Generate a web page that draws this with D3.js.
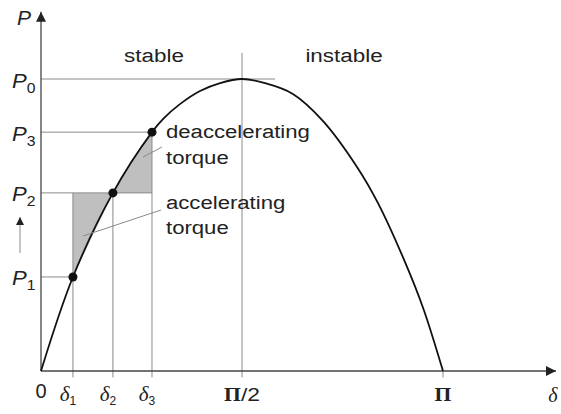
<!DOCTYPE html>
<html>
<head>
<meta charset="utf-8">
<script src="https://cdn.jsdelivr.net/npm/d3@7"></script>
<style>
  body { margin: 0; background: #fff; }
  text { font-family: "Liberation Sans", Arial, sans-serif; fill: #222; }
  .serif { font-family: "Liberation Serif", "Times New Roman", serif; }
</style>
</head>
<body>
<div id="chart"></div>
<script>
// power-angle curve (delta in degrees, P relative to P0)
var curveDelta = [0, 14.3, 32.2, 49.7, 54.6, 62.2, 71.2, 80.2, 90, 100.3, 112.8, 126.3, 141.5, 150.9, 163.0, 171.1, 180];
var curveP     = [0, 0.322, 0.610, 0.818, 0.863, 0.914, 0.959, 0.986, 1.0, 0.986, 0.949, 0.856, 0.699, 0.575, 0.373, 0.216, 0];

// operating points
var pointNames = ["1", "2", "3"];
var pointDelta = [14.3, 32.2, 49.7];
var pointP     = [0.322, 0.610, 0.818];

// x tick labels (Π part, rest)
var xTickValues = [90, 180];
var xTickLabels = [["Π", "/2"], ["Π", ""]];

var width = 561, height = 414;

var svg = d3.select("#chart")
  .append("svg")
    .attr("width", width)
    .attr("height", height);

var x = d3.scaleLinear().domain([0, 180]).range([41, 443]);
var y = d3.scaleLinear().domain([0, 1]).range([371, 79]);

var axisColor = "#444", thin = "#8a8a8a";

// arrow heads
var defs = svg.append("defs");
defs.append("marker")
  .attr("id", "arrow")
  .attr("viewBox", "0 0 10 10")
  .attr("refX", 10).attr("refY", 5)
  .attr("markerWidth", 10).attr("markerHeight", 10)
  .attr("markerUnits", "userSpaceOnUse")
  .attr("orient", "auto")
  .append("path")
    .attr("d", "M0,0 L10,5 L0,10 Z")
    .attr("fill", "#222");
defs.append("marker")
  .attr("id", "arrowSmall")
  .attr("viewBox", "0 0 10 10")
  .attr("refX", 10).attr("refY", 5)
  .attr("markerWidth", 8).attr("markerHeight", 8)
  .attr("markerUnits", "userSpaceOnUse")
  .attr("orient", "auto")
  .append("path")
    .attr("d", "M0,0 L10,5 L0,10 Z")
    .attr("fill", "#222");

var d1 = pointDelta[0], d2 = pointDelta[1], d3v = pointDelta[2];
var P1 = pointP[0], P2 = pointP[1], P3 = pointP[2];

// shaded areas
var poly = d3.line().x(function(d) { return x(d[0]); }).y(function(d) { return y(d[1]); });
svg.append("path")
  .attr("d", poly([[d1, P2], [d2, P2], [d1, P1]]) + "Z")
  .attr("fill", "#bfbfbf");
svg.append("path")
  .attr("d", poly([[d2, P2], [d3v, P3], [d3v, P2]]) + "Z")
  .attr("fill", "#bfbfbf");

// helper lines
function seg(x1, y1, x2, y2, col, w) {
  svg.append("line")
    .attr("x1", x(x1)).attr("y1", y(y1))
    .attr("x2", x(x2)).attr("y2", y(y2))
    .attr("stroke", col).attr("stroke-width", w || 1);
}
var below = -0.022; // small tick below the axis
seg(0, 1, 104.8, 1, thin);
seg(0, P3, d3v, P3, thin);
seg(0, P2, d3v, P2, thin);
seg(0, P1, d1, P1, thin);
seg(d1, below, d1, P2, thin);
seg(d2, below, d2, P2, thin);
seg(d3v, below, d3v, P3, thin);
seg(90, below, 90, 1.09, thin);
seg(180, below, 180, 0, thin);

// axes
svg.append("line")
  .attr("x1", x(0)).attr("y1", y(0))
  .attr("x2", x(0)).attr("y2", y(1.23))
  .attr("stroke", axisColor).attr("stroke-width", 1.3)
  .attr("marker-end", "url(#arrow)");
svg.append("line")
  .attr("x1", x(0)).attr("y1", y(0))
  .attr("x2", x(230.6)).attr("y2", y(0))
  .attr("stroke", axisColor).attr("stroke-width", 1.3)
  .attr("marker-end", "url(#arrow)");

// curve
var line = d3.line()
  .x(function(d, i) { return x(curveDelta[i]); })
  .y(function(d, i) { return y(curveP[i]); })
  .curve(d3.curveCatmullRom.alpha(0.5));
svg.append("path")
  .attr("d", line(curveDelta))
  .attr("fill", "none")
  .attr("stroke", "#111")
  .attr("stroke-width", 1.8);

// points
svg.selectAll(".pt")
  .data(pointDelta)
  .enter()
  .append("circle")
    .attr("cx", function(d) { return x(d); })
    .attr("cy", function(d, i) { return y(pointP[i]); })
    .attr("r", 4.5)
    .attr("fill", "#111");

// leader lines
svg.append("line").attr("x1", 143).attr("y1", 157).attr("x2", 162).attr("y2", 147)
  .attr("stroke", thin).attr("stroke-width", 1);
svg.append("line").attr("x1", 83).attr("y1", 236).attr("x2", 161).attr("y2", 210)
  .attr("stroke", thin).attr("stroke-width", 1);

// small arrow between P1 and P2
svg.append("line")
  .attr("x1", 20).attr("y1", 253).attr("x2", 20).attr("y2", 217)
  .attr("stroke", thin).attr("stroke-width", 1)
  .attr("marker-end", "url(#arrowSmall)");

// text placed in a group so it can be stretched sideways like the scan
function label(xx, yy, size, anchor, sx) {
  return svg.append("g")
      .attr("transform", "translate(" + xx + "," + yy + ") scale(" + (sx || 1) + ",1)")
    .append("text")
      .attr("text-anchor", anchor || "start")
      .style("font-size", size + "px");
}

// P labels
label(17, 25, 20, "start", 1.05).style("font-style", "italic").text("P");
function pLabel(sub, yy) {
  var t = label(12, yy, 21, "start", 1.05);
  t.append("tspan").style("font-style", "italic").text("P");
  t.append("tspan").attr("dy", 5).style("font-size", "15px").text(sub);
}
pLabel("0", y(1) + 8.5);
pLabel("3", y(P3) + 8.5);
pLabel("2", y(P2) + 8.5);
pLabel("1", y(P1) + 8.5);

// x labels
label(x(0), 398, 20, "middle").text("0");
pointDelta.forEach(function(d, i) {
  var t = label(x(d) - 5, 401, 21, "middle").attr("class", "serif");
  t.append("tspan").style("font-style", "italic").text("δ");
  t.append("tspan").attr("dy", 4).style("font-size", "12px")
    .style("font-family", "Liberation Sans, Arial, sans-serif").text(pointNames[i]);
});
xTickValues.forEach(function(v, i) {
  var t = label(x(v), 401, 18, "middle", 1.2);
  t.append("tspan").attr("class", "serif").style("font-weight", "bold").text(xTickLabels[i][0]);
  if (xTickLabels[i][1]) {
    t.append("tspan").style("font-size", "19px").text(xTickLabels[i][1]);
  }
});
label(553, 402, 20, "middle").attr("class", "serif")
  .style("font-style", "italic").text("δ");

// region labels
label(154, 62, 19, "middle", 1.18).text("stable");
label(344, 62, 19, "middle", 1.18).text("instable");

label(166, 138, 18, "start", 1.23).text("deaccelerating");
label(166, 164, 18, "start", 1.23).text("torque");
label(166, 209, 18, "start", 1.23).text("accelerating");
label(166, 234, 18, "start", 1.23).text("torque");
</script>
</body>
</html>
